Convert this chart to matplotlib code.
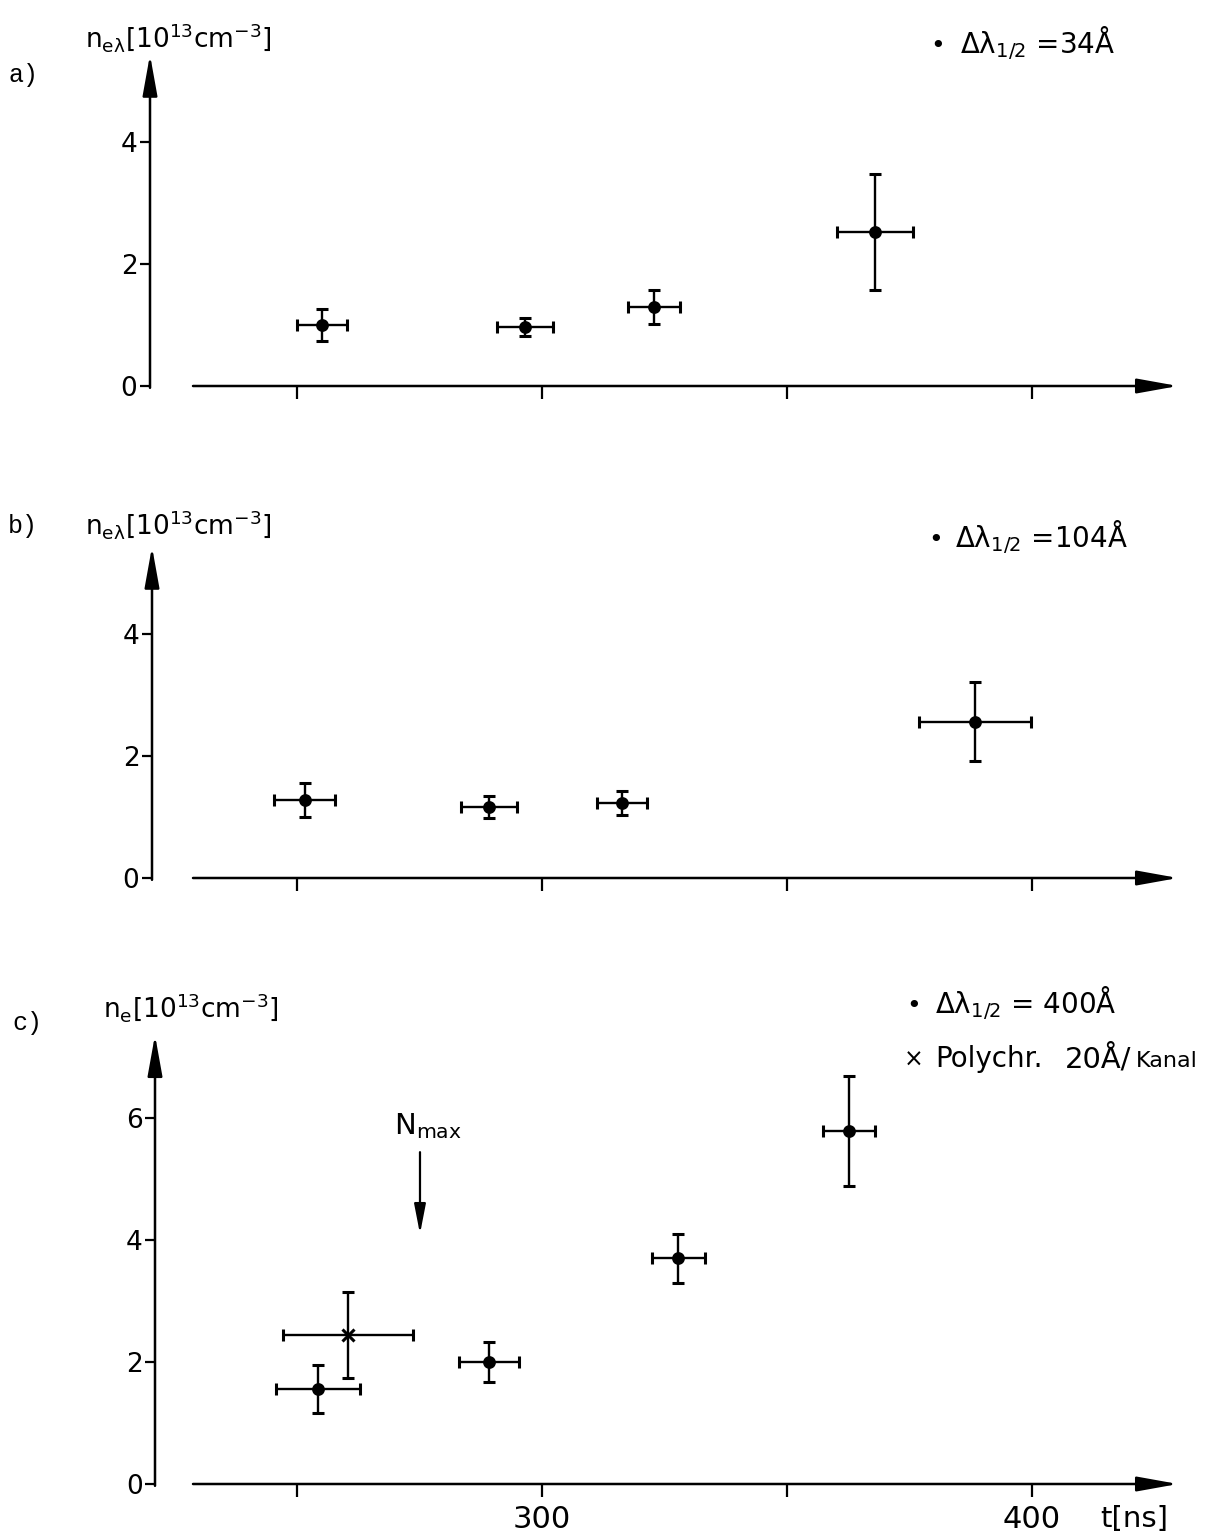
import numpy as np
import matplotlib
matplotlib.use("Agg")
import matplotlib.pyplot as plt

plt.rcParams['font.family'] = ['DejaVu Sans']
plt.rcParams['mathtext.fontset'] = 'dejavusans'

W, H = 1215, 1535
PXNS = 4.9          # pixels per ns in the scan
PX250 = 297         # pixel of the 250 ns tick
PXUNIT = 61         # pixels per 10^13 cm^-3

# ---- data ----
# a) dl = 34 A
a_t = [255.1, 296.5, 322.9, 368.0]
a_n = [1.00, 0.97, 1.30, 2.52]
a_terr = [5.2, 5.7, 5.3, 7.7]
a_nerr = [0.26, 0.15, 0.28, 0.95]

# b) dl = 104 A
b_t = [251.6, 289.2, 316.3, 388.4]
b_n = [1.28, 1.16, 1.23, 2.56]
b_terr = [6.2, 5.7, 5.1, 11.4]
b_nerr = [0.28, 0.18, 0.20, 0.65]

# c) dl = 400 A
c_t = [254.3, 289.2, 327.8, 362.7]
c_n = [1.56, 2.00, 3.70, 5.79]
c_terr = [8.5, 6.2, 5.4, 5.3]
c_nerr = [0.39, 0.32, 0.40, 0.90]

# c) polychromator 20 A/Kanal
poly_t = [260.4]
poly_n = [2.44]
poly_terr = [13.3]
poly_nerr = [0.70]

n_max_t = 275.1
x_ticks = [250, 300, 350, 400]
c_xticklabels = ['', '300', '', '400']


def ns(px):
    return 250 + (px - PX250) / PXNS


def make_panel(fig, left, y0, top, ytip, yticks, xticklabels):
    ax = fig.add_axes([left / W, (H - y0) / H, (1180 - left) / W, (y0 - top) / H])
    ax.set_xlim(ns(left), ns(1180))
    ax.set_ylim(0, (y0 - top) / PXUNIT)
    for s in ax.spines.values():
        s.set_visible(False)
    ax.set_xticks(x_ticks)
    ax.set_xticklabels(xticklabels, fontsize=22)
    ax.set_yticks(yticks)
    ax.set_yticklabels([str(v) for v in yticks], fontsize=19)
    ax.tick_params(axis='x', direction='out', length=9, width=1.6, pad=6)
    ax.tick_params(axis='y', direction='out', length=7, width=1.6, pad=2)
    ax.patch.set_alpha(0)
    arr = dict(arrowstyle='-|>,head_length=2.5,head_width=0.45', lw=1.8,
               color='k', shrinkA=0, shrinkB=0)
    ax.annotate('', xy=(ns(1178), 0), xytext=(ns(193), 0), arrowprops=arr,
                annotation_clip=False)
    ax.annotate('', xy=(ns(left), ytip), xytext=(ns(left), -0.03), arrowprops=arr,
                annotation_clip=False)
    return ax


def points(ax, t, n, terr, nerr, fmt='o', ms=7):
    ax.errorbar(t, n, xerr=terr, yerr=nerr, fmt=fmt, color='k', ms=ms,
                mew=2.2, elinewidth=1.7, capsize=4, capthick=1.7, clip_on=False)


fig = plt.figure(figsize=(W / 100, H / 100), dpi=100)
fig.patch.set_facecolor('white')

axa = make_panel(fig, 150, 386, 40, 5.43, [0, 2, 4], ['', '', '', ''])
points(axa, a_t, a_n, a_terr, a_nerr)

axb = make_panel(fig, 152, 878, 532, 5.43, [0, 2, 4], ['', '', '', ''])
points(axb, b_t, b_n, b_terr, b_nerr)

axc = make_panel(fig, 155, 1484, 1020, 7.36, [0, 2, 4, 6], c_xticklabels)
points(axc, c_t, c_n, c_terr, c_nerr)
points(axc, poly_t, poly_n, poly_terr, poly_nerr, fmt='x', ms=9)

# N_max arrow
axc.annotate('', xy=(n_max_t, 4.1), xytext=(n_max_t, 5.44),
             arrowprops=dict(arrowstyle='-|>,head_length=1.8,head_width=0.35',
                             lw=1.6, color='k', shrinkA=0, shrinkB=0))
fig.text(394 / W, 1 - 1134 / H, r'$\mathregular{N_{max}}$', fontsize=21,
         va='baseline', ha='left')


def fx(px):
    return px / W


def fy(py):
    return 1 - py / H


# panel letters
mono = 'Liberation Mono'
fig.text(fx(8), fy(82), 'a)', family=mono, fontsize=18, va='baseline')
fig.text(fx(8), fy(533), 'b)', family=mono, fontsize=18, va='baseline')
fig.text(fx(12), fy(1030), 'c)', family=mono, fontsize=18, va='baseline')

# axis titles
fig.text(fx(85), fy(47), r'$\mathregular{n_{e\lambda}[10^{13}cm^{-3}]}$',
         fontsize=19, va='baseline')
fig.text(fx(85), fy(535), r'$\mathregular{n_{e\lambda}[10^{13}cm^{-3}]}$',
         fontsize=19, va='baseline')
fig.text(fx(103), fy(1018), r'$\mathregular{n_{e}[10^{13}cm^{-3}]}$',
         fontsize=19, va='baseline')
fig.text(fx(1100), fy(1527), 't[ns]', fontsize=21, va='baseline')

# legends
fig.text(fx(930), fy(53), '•', fontsize=18, va='baseline')
fig.text(fx(960), fy(53), r'$\mathregular{\Delta\lambda_{1/2}}$ =34Å',
         fontsize=20, va='baseline')
fig.text(fx(928), fy(547), '•', fontsize=18, va='baseline')
fig.text(fx(955), fy(547), r'$\mathregular{\Delta\lambda_{1/2}}$ =104Å',
         fontsize=20, va='baseline')
fig.text(fx(906), fy(1013), '•', fontsize=18, va='baseline')
fig.text(fx(935), fy(1013), r'$\mathregular{\Delta\lambda_{1/2}}$ = 400Å',
         fontsize=20, va='baseline')
fig.text(fx(904), fy(1067), '×', fontsize=17, va='baseline')
fig.text(fx(935), fy(1067), 'Polychr.', fontsize=20, va='baseline')
fig.text(fx(1065), fy(1067), '20Å/', fontsize=21, va='baseline')
fig.text(fx(1136), fy(1067), 'Kanal', fontsize=16, va='baseline')

fig.savefig('out.png', dpi=100)
